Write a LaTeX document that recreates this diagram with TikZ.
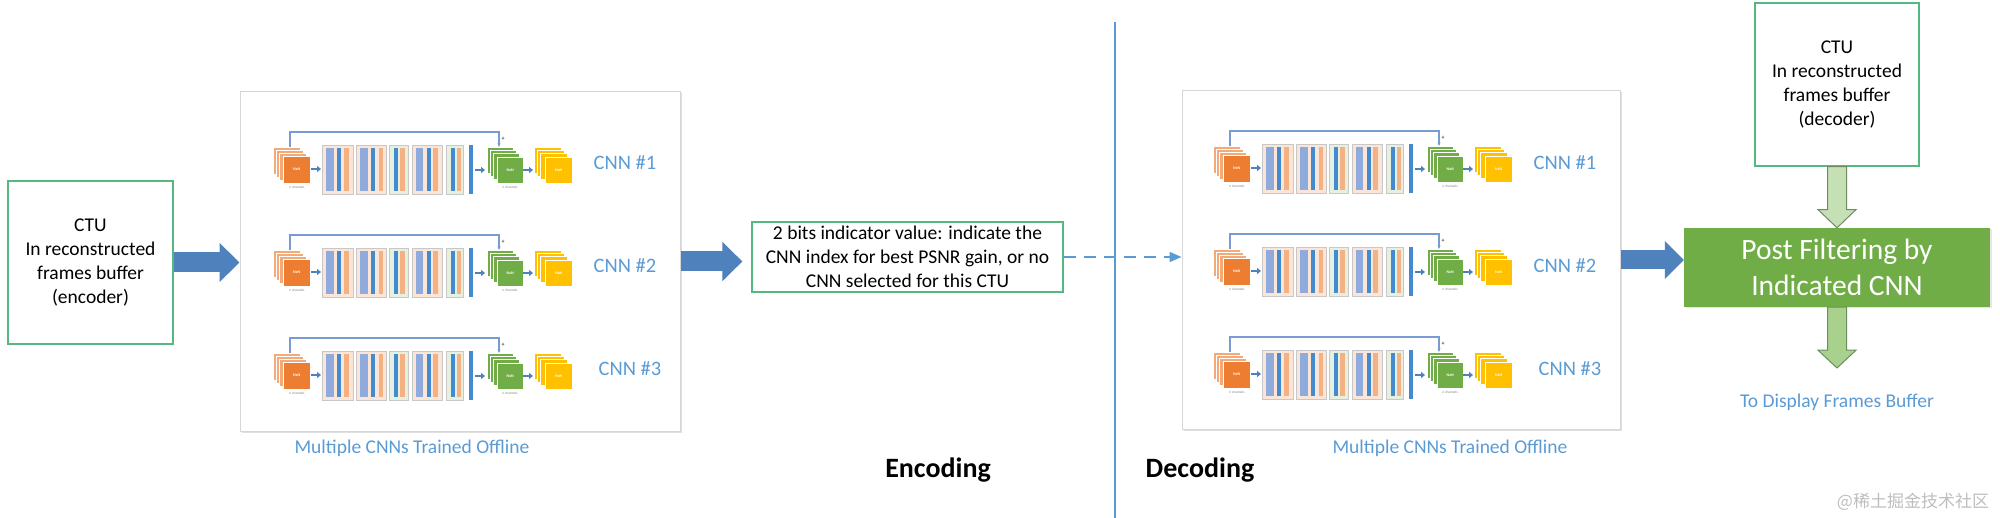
\documentclass[tikz,border=0pt]{standalone}
\usepackage{fontspec}
\setmainfont{Carlito}
\newfontfamily\cjkfont{Noto Sans CJK SC}
\usetikzlibrary{arrows.meta,calc,shadows}
\definecolor{arrowblue}{RGB}{79,129,189}
\definecolor{lblue}{RGB}{91,155,213}
\definecolor{boxgreen}{RGB}{84,184,128}
\definecolor{pfgreen}{RGB}{112,173,71}
\definecolor{lgreenA}{RGB}{197,224,180}
\definecolor{lgreenB}{RGB}{169,209,142}
\definecolor{garrline}{RGB}{110,140,95}
\definecolor{panelgray}{RGB}{214,214,214}
\definecolor{cnnorange}{RGB}{237,125,49}
\definecolor{cnnorangeL}{RGB}{244,170,120}
\definecolor{cnngreen}{RGB}{112,173,71}
\definecolor{cnnyellow}{RGB}{255,192,0}
\definecolor{blkpeach}{RGB}{251,229,214}
\definecolor{blkmint}{RGB}{230,240,224}
\definecolor{blkline}{RGB}{200,200,200}
\definecolor{barpurple}{RGB}{143,170,220}
\definecolor{barblue}{RGB}{68,138,206}
\definecolor{barpeach}{RGB}{244,177,131}
\definecolor{skipblue}{RGB}{120,155,210}
\definecolor{wmgray}{RGB}{190,190,190}
\tikzset{
  ctubox/.style={draw=boxgreen, line width=1.2pt, fill=white, align=center, inner sep=0pt,
    font=\fontsize{19.5}{24}\selectfont},
  panel/.style={draw=panelgray, line width=1pt, fill=white, inner sep=0pt,
    drop shadow={shadow xshift=1.5pt, shadow yshift=-1.5pt, opacity=0.25, fill=gray}},
  bigarr/.style={draw=arrowblue, line width=20pt, -{Triangle[width=38pt,length=20pt]}},
  cnnlabel/.style={text=lblue, font=\fontsize{20.5}{24}\selectfont},
  bluelabel/.style={text=lblue, font=\fontsize{19.5}{24}\selectfont},
  phase/.style={anchor=base, font=\bfseries\fontsize{28}{32}\selectfont},
  garr/.style={draw=garrline, line width=1pt, line join=miter},
  stackfront/.style={draw=white, line width=0.4pt, anchor=north west, inner sep=0pt,
    minimum width=27pt, minimum height=27pt, text=white, font=\bfseries\fontsize{4}{4}\selectfont},
  chtext/.style={text=gray, font=\fontsize{3.5}{4}\selectfont, inner sep=0pt},
  smallarr/.style={draw=arrowblue, line width=2.6pt, -{Triangle[width=6pt,length=4pt]}},
  blkP/.style={draw=blkline, line width=0.6pt, fill=blkpeach},
  blkM/.style={draw=blkline, line width=0.6pt, fill=blkmint},
  pics/cnnrow/.style={code={
    % skip connection
    \draw[skipblue, line width=1.1pt, -{Stealth[length=3.5pt,width=3pt]}] (17,0) -- (17,-15) -- (226,-15) -- (226,0);
    \node[font=\fontsize{6}{6}\selectfont, inner sep=0pt] (-plus) at (230,-8) {+};
    % input stack
    \foreach \i in {0,1,2}{\filldraw[fill=cnnorangeL, draw=white, line width=0.4pt] ({3.33*\i},{3*\i}) rectangle ++(27,27);}
    \node[stackfront, fill=cnnorange] (-in) at (10,9) {NxN};
    \node[chtext] (-inc) at (24,40) {n channels};
    \draw[smallarr] (38,22) -- (48,22);
    % residual blocks
    \filldraw[blkP] (49,-2) rectangle (80,47);
    \fill[barpurple] (53,1) rectangle (61,44);
    \fill[barblue] (64,1) rectangle (68,44);
    \fill[barpeach] (71,1) rectangle (76,44);
    \filldraw[blkP] (83,-2) rectangle (113,47);
    \fill[barpurple] (87,1) rectangle (95,44);
    \fill[barblue] (98,1) rectangle (102,44);
    \fill[barpeach] (106,1) rectangle (110,44);
    \filldraw[blkM] (116,-2) rectangle (135,47);
    \fill[barblue] (121,1) rectangle (125,44);
    \fill[barpeach] (127,1) rectangle (132,44);
    \filldraw[blkP] (139,-2) rectangle (169,47);
    \fill[barpurple] (143,1) rectangle (150,44);
    \fill[barblue] (154,1) rectangle (158,44);
    \fill[barpeach] (160,1) rectangle (165,44);
    \filldraw[blkM] (173,-2) rectangle (190,47);
    \fill[barblue] (178,1) rectangle (182,44);
    \fill[barpeach] (184,1) rectangle (188,44);
    \fill[barblue] (196,-2) rectangle (200,47);
    \draw[smallarr] (202,23) -- (212,23);
    % output stack
    \foreach \i in {0,1,2}{\filldraw[fill=cnngreen, draw=white, line width=0.4pt] ({214+3.33*\i},{3*\i}) rectangle ++(26,26);}
    \node[stackfront, fill=cnngreen, minimum width=26pt, minimum height=26pt] (-out) at (224,10) {NxN};
    \node[chtext] (-outc) at (237,40) {n channels};
    \draw[smallarr] (250,23) -- (260,23);
    % final stack
    \foreach \i in {0,1,2}{\filldraw[fill=cnnyellow, draw=white, line width=0.4pt] ({261+3.33*\i},{3*\i}) rectangle ++(27,26);}
    \node[stackfront, fill=cnnyellow, minimum height=26pt] (-fin) at (272,10) {NxN};
  }}
}
\begin{document}
\begin{tikzpicture}[x=1pt,y=-1pt]
\useasboundingbox (0,0) rectangle (2000,518);
\fill[white] (0,0) rectangle (2000,518);

% divider
\coordinate (divtop) at (1115,22);
\coordinate (divbot) at (1115,518);
\draw[lblue, line width=2pt] (divtop) -- (divbot);

% encoder side
\node[ctubox, minimum width=165pt, minimum height=163pt] (ctuE) at (90.5,262.5)
  {CTU\\In reconstructed\\frames buffer\\(encoder)};
\node[panel, minimum width=440pt, minimum height=339pt] (panL) at (460,261.5) {};
\pic (L1) at (273,147) {cnnrow};
\pic (L2) at (273,250) {cnnrow};
\pic (L3) at (273,353) {cnnrow};
\node[cnnlabel] (labL1) at (625,163) {CNN \#1};
\node[cnnlabel] (labL2) at (625,266) {CNN \#2};
\node[cnnlabel] (labL3) at (630,369) {CNN \#3};
\node[bluelabel] (mulL) at (412,448) {Multiple CNNs Trained Offline};

\node[ctubox, minimum width=311pt, minimum height=70pt] (ind) at (907.5,257)
  {2 bits indicator value: indicate the\\CNN index for best PSNR gain, or no\\CNN selected for this CTU};

% decoder side
\node[panel, minimum width=438pt, minimum height=338pt] (panR) at (1401,260) {};
\pic (R1) at (1213,146) {cnnrow};
\pic (R2) at (1213,249) {cnnrow};
\pic (R3) at (1213,352) {cnnrow};
\node[cnnlabel] (labR1) at (1565,163) {CNN \#1};
\node[cnnlabel] (labR2) at (1565,266) {CNN \#2};
\node[cnnlabel] (labR3) at (1570,369) {CNN \#3};
\node[bluelabel] (mulR) at (1450,448) {Multiple CNNs Trained Offline};

\node[ctubox, minimum width=164pt, minimum height=163pt] (ctuD) at (1837,84.5)
  {CTU\\In reconstructed\\frames buffer\\(decoder)};
\node[fill=pfgreen, text=white, align=center, inner sep=0pt, minimum width=306pt, minimum height=79pt,
  font=\fontsize{29.5}{36}\selectfont,
  drop shadow={shadow xshift=1.5pt, shadow yshift=-1.5pt, opacity=0.2, fill=gray}] (post) at (1837,267.5)
  {Post Filtering by\\Indicated CNN};
\node[bluelabel] (disp) at (1837,402) {To Display Frames Buffer};
\coordinate (dispTip) at (1837,368);

% arrows
\draw[bigarr] (ctuE.east) -- (ctuE.east -| panL.west);
\draw[bigarr, shorten >=9pt] (panL.east) -- (panL.east -| ind.west);
\draw[lblue, line width=1.6pt, dash pattern=on 12pt off 8pt, -{Triangle[width=10pt,length=12pt]}]
  (ind.east) -- (ind.east -| panR.west);
\draw[draw=arrowblue, line width=19pt, -{Triangle[width=37pt,length=19pt]}] (panR.east) -- (panR.east -| post.west);

\draw[garr, fill=lgreenA]
  ($(ctuD.south)+(-9.5,0)$) -- ($(ctuD.south)+(9.5,0)$) -- ($(ctuD.south)+(9.5,43)$) -- ($(ctuD.south)+(19,43)$)
  -- (post.north) -- ($(ctuD.south)+(-19,43)$) -- ($(ctuD.south)+(-9.5,43)$) -- cycle;
\draw[garr, fill=lgreenB]
  ($(post.south)+(-9.5,0)$) -- ($(post.south)+(9.5,0)$) -- ($(post.south)+(9.5,43)$) -- ($(post.south)+(19,43)$)
  -- (dispTip) -- ($(post.south)+(-19,43)$) -- ($(post.south)+(-9.5,43)$) -- cycle;

% phase labels
\node[phase] (enc) at (938,477) {Encoding};
\node[phase] (dec) at (1200,477) {Decoding};

% watermark
\node[text=wmgray, font=\cjkfont\fontsize{17}{20}\selectfont] (wm) at (1913,502) {@稀土掘金技术社区};
\end{tikzpicture}
\end{document}
